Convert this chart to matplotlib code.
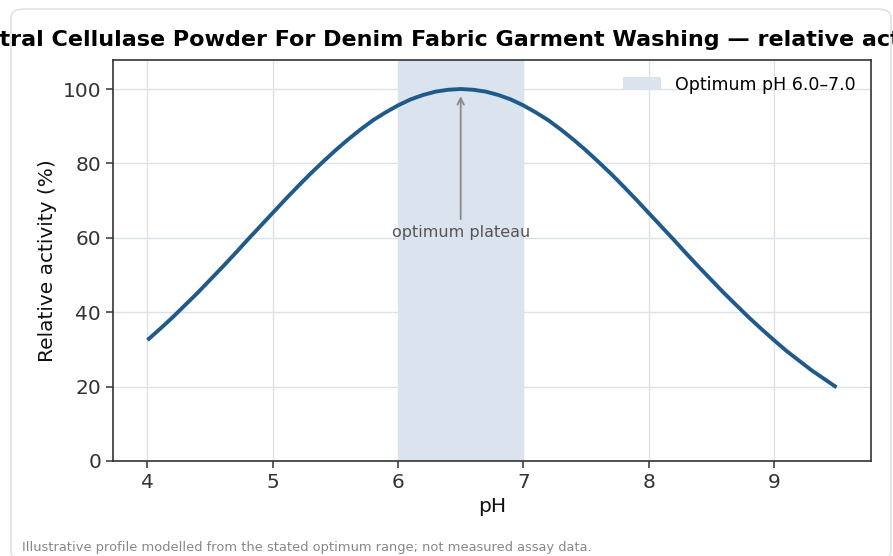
"""Relative activity vs pH for a neutral cellulase powder (illustrative profile)."""

import matplotlib
import matplotlib.pyplot as plt
from matplotlib.patches import FancyBboxPatch

matplotlib.use("Agg")

# ---------------------------------------------------------------------------
# Data
# ---------------------------------------------------------------------------
ph = [4.0, 4.1, 4.2, 4.3, 4.4, 4.5, 4.6, 4.7, 4.8, 4.9,
      5.0, 5.1, 5.2, 5.3, 5.4, 5.5, 5.6, 5.7, 5.8, 5.9,
      6.0, 6.1, 6.2, 6.3, 6.4, 6.5, 6.6, 6.7, 6.8, 6.9,
      7.0, 7.1, 7.2, 7.3, 7.4, 7.5, 7.6, 7.7, 7.8, 7.9,
      8.0, 8.1, 8.2, 8.3, 8.4, 8.5, 8.6, 8.7, 8.8, 8.9,
      9.0, 9.1, 9.2, 9.3, 9.4, 9.5]
activity = [32.5, 35.5, 38.6, 41.9, 45.2, 48.7, 52.2, 55.8, 59.5, 63.1,
            66.7, 70.3, 73.8, 77.2, 80.4, 83.5, 86.4, 89.1, 91.6, 93.7,
            95.6, 97.2, 98.4, 99.3, 99.8, 100.0, 99.8, 99.3, 98.4, 97.2,
            95.6, 93.7, 91.6, 89.1, 86.4, 83.5, 80.4, 77.2, 73.8, 70.3,
            66.7, 63.1, 59.5, 55.8, 52.2, 48.7, 45.2, 41.9, 38.6, 35.5,
            32.5, 29.6, 27.0, 24.4, 22.1, 19.8]

optimum_lo, optimum_hi = 6.0, 7.0
peak_ph, peak_val = 6.5, 100.0

title = ("Neutral Cellulase Powder For Denim Fabric Garment Washing"
         " \u2014 relative activity vs pH")
footnote = ("Illustrative profile modelled from the stated optimum range; "
            "not measured assay data.")

# ---------------------------------------------------------------------------
# Plot
# ---------------------------------------------------------------------------
fig = plt.figure(figsize=(8.93, 5.56), dpi=100)

# Card border around the figure.
card = FancyBboxPatch(
    (11 / 893, -4 / 556), 880 / 893, 551 / 556,
    boxstyle="round,pad=0,rounding_size=0.015",
    transform=fig.transFigure, facecolor="none",
    edgecolor="#dfe3e8", linewidth=1.2, zorder=0,
)
fig.patches.append(card)

ax = fig.add_axes([113 / 893, 95 / 556, 758 / 893, 401 / 556])

ax.axvspan(optimum_lo, optimum_hi, color="#dbe4ee", lw=0,
           label=f"Optimum pH {optimum_lo:.1f}\u2013{optimum_hi:.1f}", zorder=1)
ax.plot(ph, activity, color="#1f5a8a", linewidth=2.8, zorder=3,
        solid_capstyle="butt")

ax.annotate(
    "optimum plateau", xy=(peak_ph, peak_val - 1.2), xytext=(peak_ph, 61.5),
    ha="center", va="center", fontsize=11.5, color="#555555",
    arrowprops=dict(arrowstyle="->", color="#8a8a8a", lw=1.3),
    zorder=4,
)

ax.set_xlim(3.725, 9.775)
ax.set_ylim(0, 107.8)
ax.set_xticks([4, 5, 6, 7, 8, 9])
ax.set_yticks([0, 20, 40, 60, 80, 100])
ax.grid(color="#dde2e8", linewidth=1.0, zorder=0)
ax.set_axisbelow(True)

for sp in ax.spines.values():
    sp.set_color("#333333")
    sp.set_linewidth(1.2)
ax.tick_params(labelsize=14.5, colors="#333333", length=5, width=1.1)
ax.set_xlabel("pH", fontsize=14.5, color="#111111")
ax.set_ylabel("Relative activity (%)", fontsize=14.5, color="#111111")

ax.legend(loc="upper right", frameon=False, fontsize=12.5, handlelength=2.2)

fig.text(492 / 893, 1 - 40 / 556, title, ha="center", va="center",
         fontsize=16, fontweight="bold", color="#000000")
fig.text(22 / 893, 1 - 548 / 556, footnote, ha="left", va="center",
         fontsize=9.4, color="#888888")

fig.savefig("out.png", dpi=100)
plt.close(fig)
